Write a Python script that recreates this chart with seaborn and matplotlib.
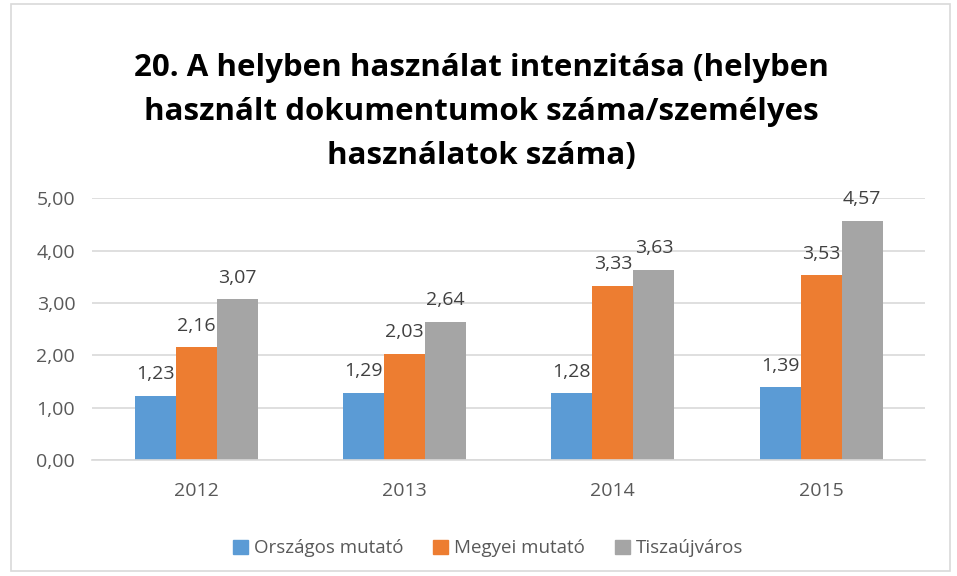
"""Helyben használat intenzitása - oszlopdiagram újrarajzolása."""
import matplotlib
matplotlib.use('Agg')
import matplotlib.pyplot as plt
import matplotlib.patches as mpatches
import pandas as pd
import seaborn as sns

# adatok
evek = ['2012', '2013', '2014', '2015']
orszagos = [1.23, 1.29, 1.28, 1.39]
megyei = [2.16, 2.03, 3.33, 3.53]
tiszaujvaros = [3.07, 2.64, 3.63, 4.57]
sorozatok = ['Országos mutató', 'Megyei mutató', 'Tiszaújváros']
szinek = ['#5B9BD5', '#ED7D31', '#A5A5A5']
y_ticks = [0, 1, 2, 3, 4, 5]

cim = ('20. A helyben használat intenzitása (helyben\n'
       'használt dokumentumok száma/személyes\n'
       'használatok száma)')

# hosszú formátumú tábla a seaborn-nak
df = pd.DataFrame({
    'ev': evek * 3,
    'sorozat': [s for s in sorozatok for _ in evek],
    'ertek': orszagos + megyei + tiszaujvaros,
})

sns.set_style('white')
plt.rcParams['font.family'] = ['Open Sans', 'DejaVu Sans']

fig = plt.figure(figsize=(9.57, 5.76), dpi=100)
ax = fig.add_axes([0.096, 0.201, 0.871, 0.455])

sns.barplot(data=df, x='ev', y='ertek', hue='sorozat', palette=szinek,
            width=0.59, saturation=1, linewidth=0, ax=ax, legend=False)

# adatfeliratok tizedesvesszővel
for cont in ax.containers:
    ax.bar_label(cont, labels=[f'{v:.2f}'.replace('.', ',') for v in cont.datavalues],
                 padding=9, fontsize=14, color='#404040')

ax.set_ylim(0, 5)
ax.set_yticks(y_ticks)
ax.set_yticklabels([f'{v:.2f}'.replace('.', ',') for v in y_ticks])
ax.yaxis.grid(True, color='#D9D9D9', linewidth=1.2)
ax.set_axisbelow(True)
for s in ['top', 'right', 'left']:
    ax.spines[s].set_visible(False)
ax.spines['bottom'].set_color('#D9D9D9')
ax.spines['bottom'].set_linewidth(1.2)
ax.tick_params(axis='y', length=0, labelsize=14, colors='#595959', pad=12)
ax.tick_params(axis='x', length=0, labelsize=14, colors='#595959', pad=16)
ax.set_xlabel('')
ax.set_ylabel('')

fig.text(0.503, 0.806, cim, ha='center', va='center', fontsize=22.5,
         fontweight='bold', color='black', linespacing=1.6)

# jelmagyarázat
kezelok = [mpatches.Patch(color=c, label=s) for c, s in zip(szinek, sorozatok)]
fig.legend(handles=kezelok, loc='center', bbox_to_anchor=(0.51, 0.048), ncol=3,
           frameon=False, fontsize=13.5, labelcolor='#595959',
           handlelength=0.8, handleheight=0.8, handletextpad=0.3, columnspacing=1.6)

# keret a diagram körül
fig.patches.append(mpatches.Rectangle((0.011, 0.008), 0.982, 0.985,
                                      transform=fig.transFigure, fill=False,
                                      edgecolor='#D9D9D9', linewidth=1.2))

fig.savefig('out.png', dpi=100)
